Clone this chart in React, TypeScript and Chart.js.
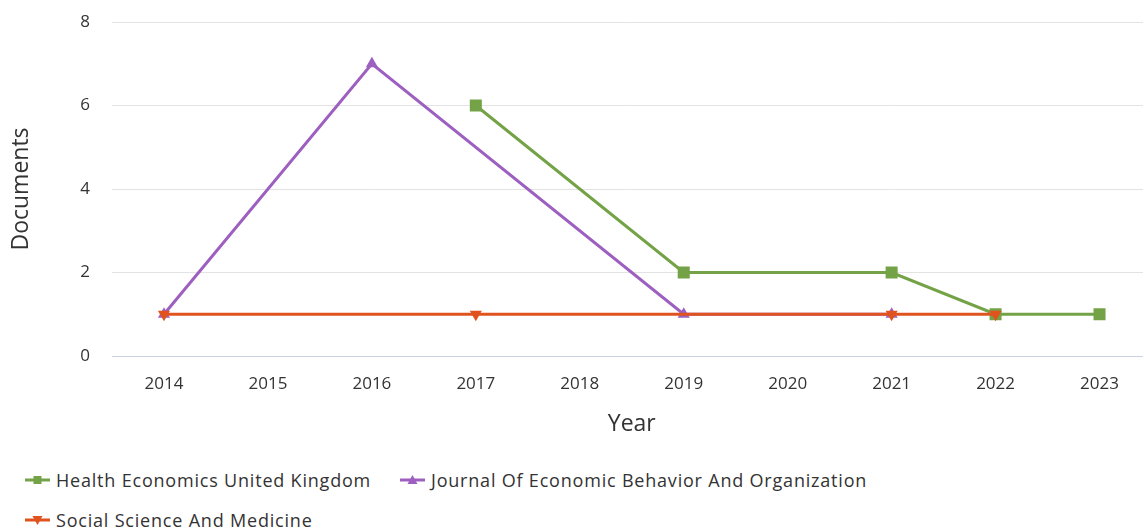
import React, { useEffect, useRef } from 'react';
import { Chart, registerables } from 'chart.js';

Chart.register(...registerables);

const years = ['2014', '2015', '2016', '2017', '2018', '2019', '2020', '2021', '2022', '2023'];
const healthEconomicsUK = [null, null, null, 6, null, 2, null, 2, 1, 1];
const journalEconBehavior = [1, null, 7, null, null, 1, null, 1, null, null];
const socialScienceMedicine = [1, null, null, 1, null, null, null, 1, 1, null];
const yTicks = [0, 2, 4, 6, 8];

const GREEN = '#74a246';
const PURPLE = '#9d5fc0';
const RED = '#e0531f';
const FONT = "'Open Sans', sans-serif";
const TEXT = '#333333';

const seriesLabels = [
  'Health Economics United Kingdom',
  'Journal Of Economic Behavior And Organization',
  'Social Science And Medicine',
];

function Marker({ color, shape }: { color: string; shape: 'rect' | 'up' | 'down' }) {
  return (
    <svg width="25" height="16" style={{ display: 'block' }}>
      <line x1="0" y1="8" x2="25" y2="8" stroke={color} strokeWidth="3" />
      {shape === 'rect' && <rect x="8.5" y="4" width="8" height="8" fill={color} />}
      {shape === 'up' && <polygon points="12.5,3 17.5,12 7.5,12" fill={color} />}
      {shape === 'down' && <polygon points="12.5,13 17.5,4 7.5,4" fill={color} />}
    </svg>
  );
}

function LegendItem({ left, top, color, shape, label }: any) {
  return (
    <div style={{ position: 'absolute', left, top, display: 'flex', alignItems: 'center', height: 24 }}>
      <Marker color={color} shape={shape} />
      <span style={{ marginLeft: 6, fontFamily: FONT, fontSize: 18, letterSpacing: 0.8, color: TEXT, whiteSpace: 'nowrap' }}>{label}</span>
    </div>
  );
}

export default function App() {
  const ref = useRef<HTMLCanvasElement | null>(null);

  useEffect(() => {
    if (!ref.current) return;
    const chart = new Chart(ref.current, {
      type: 'line',
      data: {
        labels: years,
        datasets: [
          {
            label: seriesLabels[0],
            data: healthEconomicsUK,
            borderColor: GREEN,
            backgroundColor: GREEN,
            borderWidth: 3,
            pointStyle: 'rect',
            pointRadius: 8.5,
            pointHoverRadius: 8.5,
            pointBorderWidth: 0,
            spanGaps: true,
            tension: 0,
            order: 1,
          },
          {
            label: seriesLabels[1],
            data: journalEconBehavior,
            borderColor: PURPLE,
            backgroundColor: PURPLE,
            borderWidth: 3,
            pointStyle: 'triangle',
            pointRadius: 7,
            pointHoverRadius: 7,
            pointBorderWidth: 0,
            spanGaps: true,
            tension: 0,
            order: 2,
          },
          {
            label: seriesLabels[2],
            data: socialScienceMedicine,
            borderColor: RED,
            backgroundColor: RED,
            borderWidth: 3,
            pointStyle: 'triangle',
            rotation: 180,
            pointRotation: 180,
            pointRadius: 7,
            pointHoverRadius: 7,
            pointBorderWidth: 0,
            spanGaps: true,
            tension: 0,
            order: 0,
          } as any,
        ],
      },
      options: {
        animation: false,
        responsive: false,
        maintainAspectRatio: false,
        layout: { padding: { left: 0, right: 5, top: 22, bottom: 0 } },
        plugins: {
          legend: { display: false },
          tooltip: { enabled: false },
        },
        scales: {
          x: {
            type: 'category',
            offset: true,
            grid: { display: false, drawTicks: false },
            border: { display: true, color: '#c9d3e3', width: 1 },
            ticks: { color: TEXT, font: { family: FONT, size: 17 }, padding: 18, maxRotation: 0, autoSkip: false },
            title: { display: true, text: 'Year', color: TEXT, font: { family: FONT, size: 23 }, padding: { top: 0, bottom: 12 } },
            afterFit: (axis: any) => { axis.height = 94; },
          },
          y: {
            min: 0,
            max: 8,
            afterBuildTicks: (axis: any) => { axis.ticks = yTicks.map((v) => ({ value: v })); },
            grid: { color: '#e3e3e3', drawTicks: false },
            border: { display: false },
            ticks: { color: TEXT, font: { family: FONT, size: 17 }, padding: 22 },
            title: { display: true, text: 'Documents', color: TEXT, font: { family: FONT, size: 23 }, padding: { top: 8, bottom: 0 } },
            afterFit: (axis: any) => {
              axis.width = 112;
              axis.paddingTop = 0;
              axis.paddingBottom = 0;
            },
          },
        },
      },
    });
    return () => chart.destroy();
  }, []);

  return (
    <div style={{ position: 'fixed', left: 0, top: 0, width: 1143, height: 530, overflow: 'hidden', background: '#fff' }}>
      <div style={{ position: 'absolute', left: 0, top: 0, width: 1160, height: 450 }}>
        <canvas ref={ref} width={1160} height={450} style={{ width: 1160, height: 450 }} />
      </div>
      <LegendItem left={25} top={468} color={GREEN} shape="rect" label={seriesLabels[0]} />
      <LegendItem left={400} top={468} color={PURPLE} shape="up" label={seriesLabels[1]} />
      <LegendItem left={25} top={508} color={RED} shape="down" label={seriesLabels[2]} />
    </div>
  );
}
